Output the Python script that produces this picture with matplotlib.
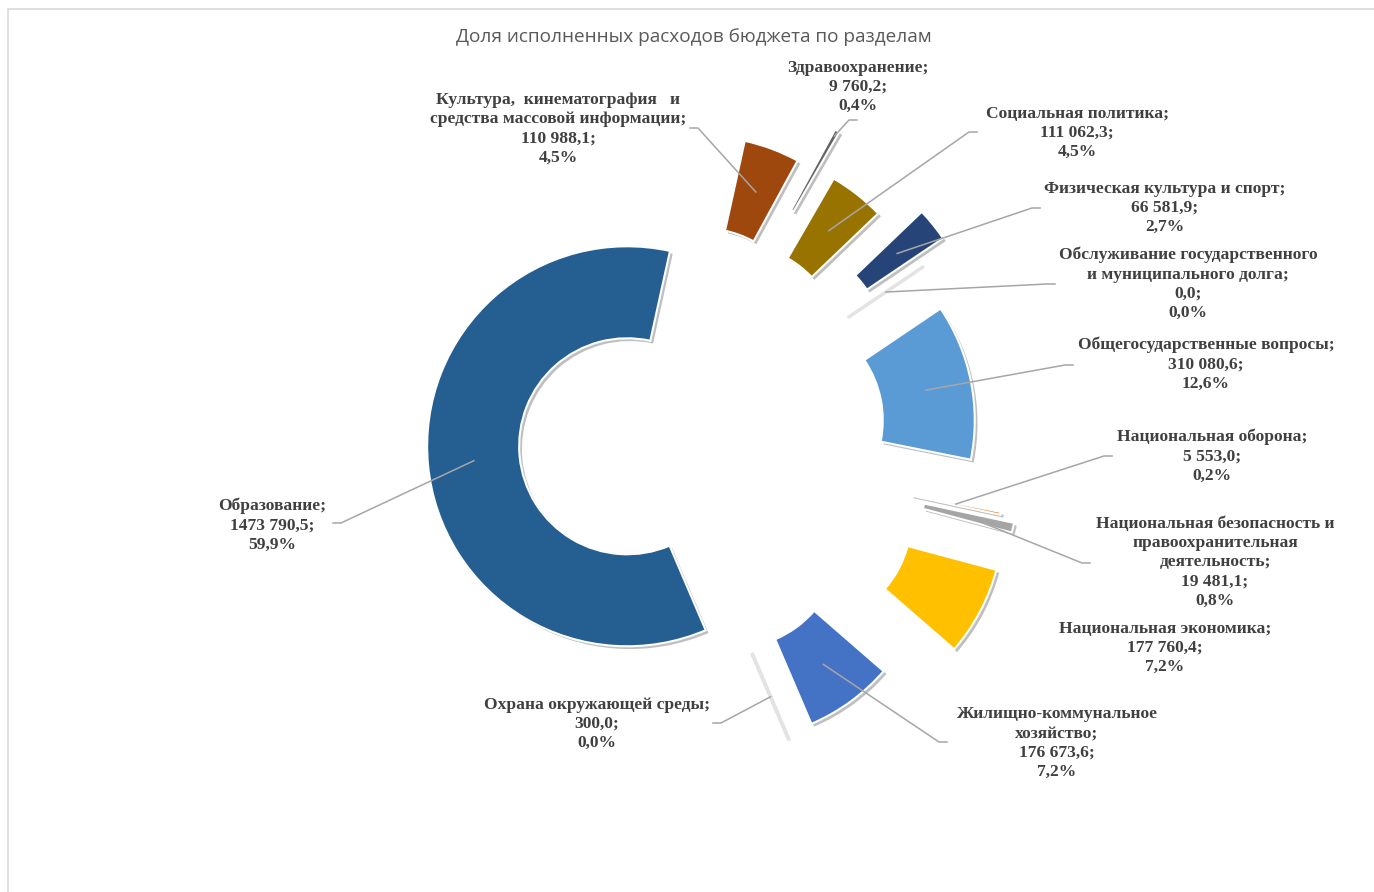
import numpy as np
import matplotlib
matplotlib.use("Agg")
import matplotlib.pyplot as plt
import matplotlib.patheffects as pe
from matplotlib.patches import Rectangle

# разделы бюджета (порядок как в исходной таблице)
names = [
    "Общегосударственные вопросы;",
    "Национальная оборона;",
    "Национальная безопасность и\nправоохранительная\nдеятельность;",
    "Национальная экономика;",
    "Жилищно-коммунальное\nхозяйство;",
    "Охрана окружающей среды;",
    "Образование;",
    "Культура,  кинематография   и\nсредства массовой информации;",
    "Здравоохранение;",
    "Социальная политика;",
    "Физическая культура и спорт;",
    "Обслуживание государственного\nи муниципального долга;",
]
values = [310080.6, 5553.0, 19481.1, 177760.4, 176673.6, 300.0,
          1473790.5, 110988.1, 9760.2, 111062.3, 66581.9, 0.0]
value_text = ["310 080,6", "5 553,0", "19 481,1", "177 760,4", "176 673,6", "300,0",
              "1473 790,5", "110 988,1", "9 760,2", "111 062,3", "66 581,9", "0,0"]
colors = ["#5B9BD5", "#ED7D31", "#A5A5A5", "#FFC000", "#4472C4", "#70AD47",
          "#255E91", "#9E480E", "#636363", "#997300", "#264478", "#43682B"]
explode = [0.575, 0.73, 0.805, 0.80, 0.60, 0.61, 0.175, 0.57, 0.79, 0.58, 0.74, 0.58]

# положение подписей (пиксели картинки) и точки, откуда идёт выноска
label_pos = [(1206, 364), (1212, 456), (1215, 562), (1165, 648), (1057, 743), (597, 724),
             (272, 525), (558, 129), (858, 87), (1077, 133), (1165, 208), (1188, 284)]
leader_anchor = [(1073, 365), (1112, 456), (1090, 563), None, (947, 742), (713, 723),
                 (333, 523), (690, 128), (857, 120), (977, 132), (1040, 208), (1055, 284)]

W, H = 1374, 892
CX, CY = 662, 443
SCALE = 200.0


def P(x, y):
    return (x - CX) / SCALE, (CY - y) / SCALE


fig = plt.figure(figsize=(W / 100, H / 100), dpi=100)
ax = fig.add_axes([0, 0, 1, 1])

shadow = [pe.withSimplePatchShadow(offset=(2, -2), shadow_rgbFace="k", alpha=0.25)]
wedges, _ = ax.pie(values, explode=explode, colors=colors, startangle=34,
                   counterclock=False, radius=1.0,
                   wedgeprops=dict(width=0.46, edgecolor="white", linewidth=1.5))
for w, v in zip(wedges, values):
    w.set_path_effects(shadow)
    if v / sum(values) < 0.001:
        w.set_edgecolor("#e3e3e3")
        w.set_linewidth(2.5)

total = sum(values)
for i, w in enumerate(wedges):
    pct = f"{values[i] / total * 100:.1f}%".replace(".", ",")
    txt = f"{names[i]}\n{value_text[i]};\n{pct}"
    lx, ly = P(*label_pos[i])
    ax.text(lx, ly, txt, ha="center", va="center", multialignment="center",
            fontsize=12.6, fontweight="bold", family="Liberation Serif",
            color="#404040", linespacing=1.27, zorder=5)
    if leader_anchor[i] is None:
        continue
    tm = np.deg2rad((w.theta1 + w.theta2) / 2)
    rr = 0.97 if values[i] / total < 0.005 and i == 8 else 0.77
    sx = w.center[0] + rr * np.cos(tm)
    sy = w.center[1] + rr * np.sin(tm)
    axp, ayp = leader_anchor[i]
    side = -1 if label_pos[i][0] > axp else 1
    ex, ey = P(axp + side * 8, ayp)
    ax_, ay_ = P(axp, ayp)
    ax.plot([sx, ex, ax_], [sy, ey, ay_], color="#a6a6a6", lw=1.1, zorder=4)

ax.set_xlim(-CX / SCALE, (W - CX) / SCALE)
ax.set_ylim(-(H - CY) / SCALE, CY / SCALE)
ax.set_aspect("equal")
ax.axis("off")

fig.patches.append(Rectangle((8 / W, -0.1), 1.2, 1 - 9 / H + 0.1, transform=fig.transFigure,
                             fill=False, edgecolor="#d9d9d9", lw=1.2))
fig.text(694 / W, 1 - 37 / H, "Доля исполненных расходов бюджета по разделам",
         ha="center", va="center", fontsize=13.7, family="Open Sans", color="#595959")

fig.savefig("out.png", dpi=100)
